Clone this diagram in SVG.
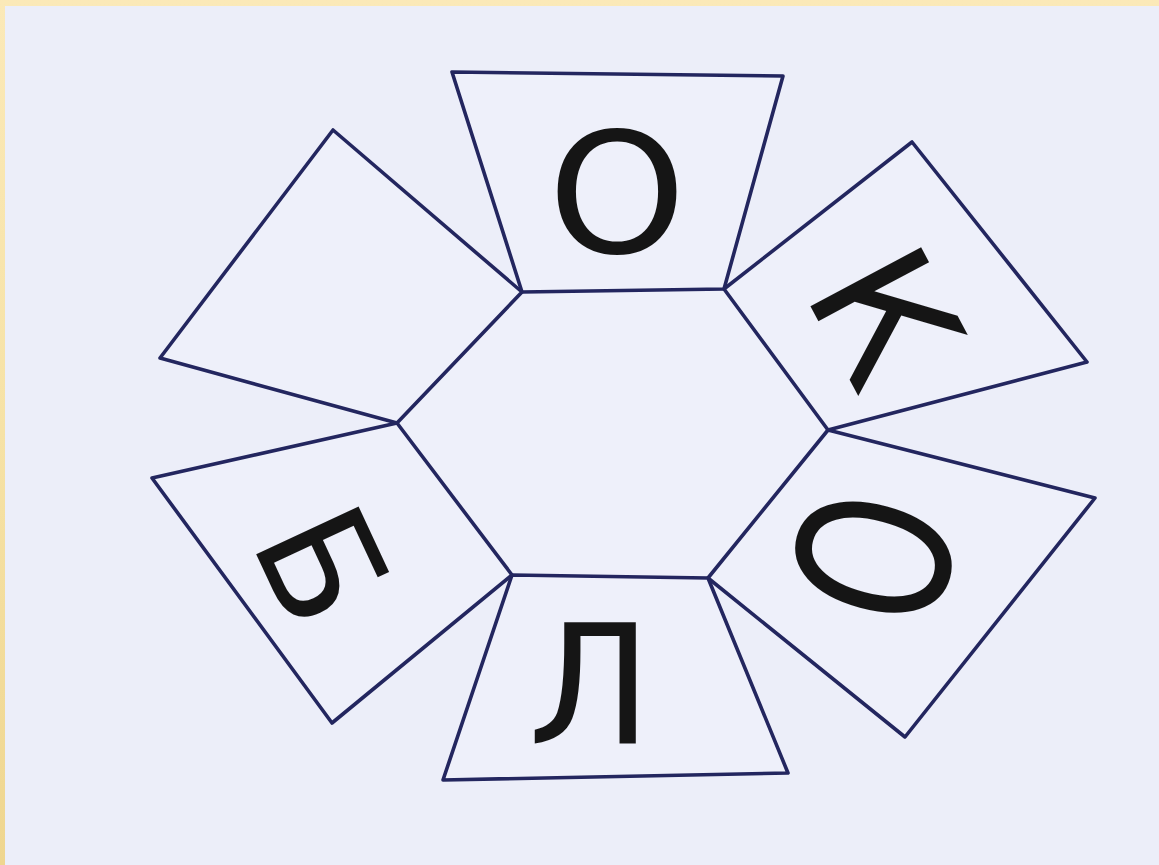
<svg xmlns="http://www.w3.org/2000/svg" width="1159" height="865" viewBox="0 0 1159 865">
  <defs>
    <linearGradient id="frame" x1="0" y1="0" x2="0" y2="1">
      <stop offset="0" stop-color="#fbe9b8"/>
      <stop offset="0.5" stop-color="#f6e2a6"/>
      <stop offset="1" stop-color="#efd690"/>
    </linearGradient>
  </defs>
  <style>
    .panel { fill: #eef0fa; stroke: #23265f; stroke-width: 3.6; stroke-linejoin: round; }
    .letter { font-family: "DejaVu Sans", "Liberation Sans", sans-serif; fill: #151515; text-anchor: middle; }
  </style>

  <rect x="0" y="0" width="1159" height="865" fill="url(#frame)"/>
  <rect x="5" y="6" width="1154" height="859" fill="#eceef9"/>

  <g id="center-hexagon">
    <polygon points="522,292 724,289 828,430 708,578 512,575 397,423" fill="#eef0fa" stroke="none"/>
  </g>

  <g id="panel-top">
    <polygon class="panel" points="452,72 783,76 724,289 522,292"/>
    <text class="letter" transform="translate(617,192) scale(1,0.95)" x="0" y="64" font-size="176">О</text>
  </g>

  <g id="panel-k">
    <polygon class="panel" points="724,289 912,142 1087,362 828,430"/>
    <text class="letter" transform="translate(886,316) rotate(62)" x="0" y="62" font-size="172">К</text>
  </g>

  <g id="panel-o-right">
    <polygon class="panel" points="828,430 1095,498 905,737 708,578"/>
    <text class="letter" transform="translate(873,557) rotate(105) scale(0.74,1)" x="0" y="76" font-size="210">О</text>
  </g>

  <g id="panel-l">
    <polygon class="panel" points="512,575 708,578 788,773 443,780"/>
    <text class="letter" transform="translate(590,683)" x="0" y="60" font-size="165">Л</text>
  </g>

  <g id="panel-b">
    <polygon class="panel" points="397,423 152,478 332,723 512,575"/>
    <text class="letter" transform="translate(323,565) rotate(65)" x="0" y="56" font-size="155">Б</text>
  </g>

  <g id="panel-blank">
    <polygon class="panel" points="333,130 522,292 397,423 160,358"/>
  </g>
</svg>
